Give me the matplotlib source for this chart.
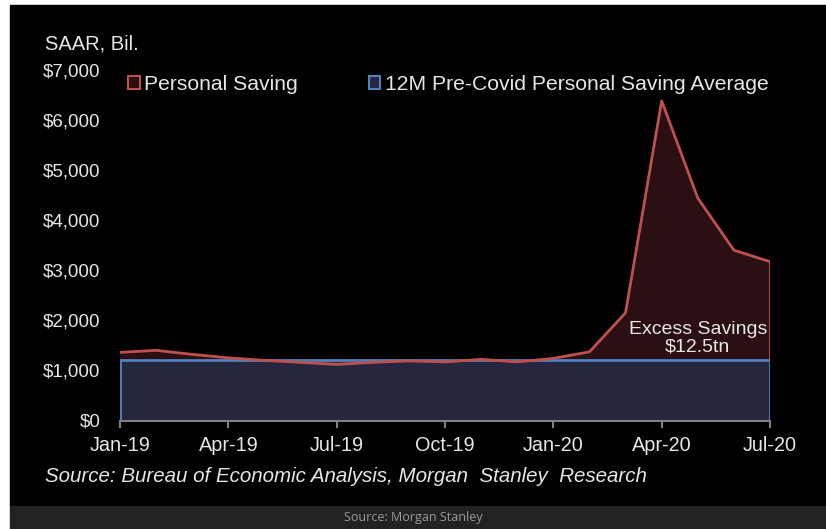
import matplotlib
matplotlib.use("Agg")
import matplotlib.pyplot as plt
from matplotlib.patches import Rectangle, Patch

# monthly personal saving, SAAR $bn, Jan-19 .. Jul-20
months = ["Jan-19", "Feb-19", "Mar-19", "Apr-19", "May-19", "Jun-19", "Jul-19",
          "Aug-19", "Sep-19", "Oct-19", "Nov-19", "Dec-19", "Jan-20", "Feb-20",
          "Mar-20", "Apr-20", "May-20", "Jun-20", "Jul-20"]
saving = [1360, 1400, 1320, 1250, 1200, 1160, 1120, 1160, 1190, 1170, 1220,
          1170, 1240, 1370, 2150, 6380, 4440, 3400, 3170]
avg_12m = 1215
tick_labels = months[::3]
y_ticks = [0, 1000, 2000, 3000, 4000, 5000, 6000, 7000]

W, H = 826, 529
plt.rcParams['font.family'] = ['Liberation Sans', 'DejaVu Sans']
fig = plt.figure(figsize=(W / 100, H / 100), dpi=100, facecolor="white")

# black panel and grey caption strip
fig.patches.append(Rectangle((10 / W, 23 / H), 1 - 10 / W, (506 - 5) / H,
                             transform=fig.transFigure, color="black", zorder=-2))
fig.patches.append(Rectangle((10 / W, 0), 1 - 10 / W, 23 / H,
                             transform=fig.transFigure, color="#222222", zorder=-2))

ax = fig.add_axes([120 / W, (H - 420.5) / H, 650 / W, 350.7 / H])
ax.set_facecolor("black")
x = list(range(len(months)))
avg = [avg_12m] * len(x)

red = "#c0504d"
blue = "#4f81bd"
ax.fill_between(x, 0, avg, color="#26263f", lw=0, zorder=1)
ax.fill_between(x, avg, saving, where=[s > avg_12m for s in saving],
                interpolate=True, color="#2a1012", lw=0, zorder=1)
ax.plot(x, avg, color=blue, lw=2, zorder=3)
ax.plot(x, saving, color=red, lw=2, zorder=4)
ax.vlines([x[0], x[-1]], 0, avg_12m, color=blue, lw=2, zorder=3)
ax.vlines(x[-1], avg_12m, saving[-1], color=red, lw=2, zorder=4)

ax.set_xlim(0, len(x) - 1)
ax.set_ylim(0, 7000)
ax.set_xticks(x[::3])
ax.set_xticklabels(tick_labels)
ax.set_yticks(y_ticks)
ax.set_yticklabels(["${:,}".format(v) for v in y_ticks])
for s in ["top", "right", "left"]:
    ax.spines[s].set_visible(False)
ax.spines["bottom"].set_color("#808080")
ax.spines["bottom"].set_linewidth(1.5)
ax.spines["bottom"].set_zorder(5)
ax.tick_params(axis="x", colors="#808080", length=5, width=1.5, pad=6,
               labelcolor="#e6e6e6", labelsize=14.3)
ax.tick_params(axis="y", length=0, pad=14, labelcolor="#e6e6e6", labelsize=13.5)

handles = [Patch(facecolor="#2a1012", edgecolor=red, lw=1.5, label="Personal Saving"),
           Patch(facecolor="#26263f", edgecolor=blue, lw=1.5,
                 label="12M Pre-Covid Personal Saving Average")]
leg = ax.legend(handles=handles, ncol=2, loc="upper left", frameon=False,
                bbox_to_anchor=(0.0, 1.01), handlelength=0.55, handleheight=0.55,
                handletextpad=0.2, columnspacing=3.35, fontsize=15.2,
                borderaxespad=0)
for t in leg.get_texts():
    t.set_color("#e6e6e6")

ax.text(16.0, avg_12m + 90, "Excess Savings\n$12.5tn", ha="center", va="bottom",
        color="#e6e6e6", fontsize=14, linespacing=1.0, zorder=6)

fig.text(45 / W, 1 - 44 / H, "SAAR, Bil.", color="#e6e6e6", fontsize=14.5,
         va="center", ha="left")
fig.text(45 / W, 1 - 477 / H,
         "Source: Bureau of Economic Analysis, Morgan  Stanley  Research",
         color="#e6e6e6", fontsize=14.75, style="italic", va="center", ha="left")
fig.text(413 / W, 1 - 518 / H, "Source: Morgan Stanley", color="#9a9a9a",
         fontsize=9, family=["Open Sans", "DejaVu Sans"], va="center", ha="center")

fig.savefig("out.png", dpi=100, facecolor="white")
